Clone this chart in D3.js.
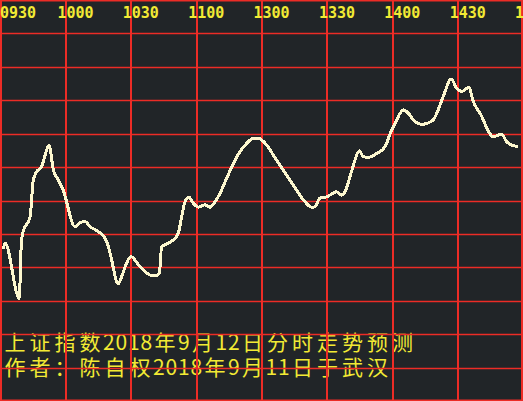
<!DOCTYPE html>
<html>
<head>
<meta charset="utf-8">
<script src="https://cdn.jsdelivr.net/npm/d3@7/dist/d3.min.js"></script>
<style>
  html, body { margin: 0; padding: 0; background: #212528; }
  svg { display: block; }
</style>
</head>
<body>
<div id="wrapper"></div>
<script>
// time labels along the top (minutes since 09:30, lunch break removed)
const tickMinutes = [0, 30, 60, 90, 120, 150, 180, 210, 240]
const tickLabels = ["0930", "1000", "1030", "1100", "1300", "1330", "1400", "1430", "1500"]

// intraday forecast curve (y in grid rows, 0 = bottom)
const minutes = [1.6, 2.3, 8.9, 9.5, 10.4, 13.8, 15.3, 16.8, 19.1, 20.7, 22.5, 24.5, 26.8, 29.0,
  34.4, 36.7, 39.0, 41.3, 45.9, 49.0, 50.5, 54.3, 55.8, 58.1, 60.1, 64.2, 68.8, 71.1, 73.1,
  74.2, 76.5, 79.5, 81.8, 83.4, 84.9, 86.7, 88.7, 91.0, 94.1, 96.4, 98.7, 101.0, 104.0, 107.1,
  110.1, 113.2, 116.2, 118.5, 122.4, 125.4, 130.0, 134.6, 139.2, 143.0, 144.5, 146.8, 149.9,
  154.5, 156.5, 158.3, 160.6, 162.9, 164.9, 166.7, 169.0, 172.9, 176.7, 179.4, 181.3, 185.1,
  187.4, 190.4, 193.5, 198.8, 200.4, 203.4, 207.0, 209.6, 211.9, 215.2, 217.2, 220.3, 226.4,
  230.2, 232.5, 234.8, 237.8]
const values = [4.55, 4.73, 3.07, 4.32, 5.03, 5.52, 6.61, 6.86, 7.01, 7.36, 7.66, 6.91, 6.61, 6.31,
  5.22, 5.33, 5.37, 5.22, 5.03, 4.77, 4.43, 3.50, 3.72, 4.13, 4.32, 4.02, 3.77, 3.74, 3.82,
  4.62, 4.70, 4.82, 5.02, 5.52, 5.96, 6.10, 5.92, 5.80, 5.87, 5.80, 5.96, 6.22, 6.66, 7.11,
  7.46, 7.71, 7.86, 7.86, 7.66, 7.36, 6.91, 6.46, 6.02, 5.80, 5.81, 6.07, 6.11,
  6.26, 6.16, 6.26, 6.71, 7.21, 7.49, 7.31, 7.29, 7.41, 7.61, 8.06, 8.31, 8.71,
  8.61, 8.36, 8.28, 8.41, 8.61, 9.11, 9.63, 9.36, 9.26, 9.39, 8.96, 8.61, 7.91,
  7.99, 7.76, 7.66, 7.61]

const titleLines = ["上证指数2018年9月12日分时走势预测", "作者：陈自权2018年9月11日于武汉"]

const width = 523
const height = 401

const xScale = d3.scaleLinear().domain([0, 240]).range([0, width])
const yScale = d3.scaleLinear().domain([0, 12]).range([height, 0])

const svg = d3.select("#wrapper").append("svg")
  .attr("width", width)
  .attr("height", height)

svg.append("rect")
  .attr("width", width)
  .attr("height", height)
  .attr("fill", "#212528")

// caption text (sits under the grid)
// CJK glyphs advance 25px, digits half that
titleLines.forEach((line, i) => {
  const t = svg.append("text")
    .attr("y", 350 + i * 25)
    .attr("fill", "#f2ea34")
    .style("font-family", "'Noto Sans CJK SC', sans-serif")
    .style("font-size", "21px")
  let cx = 3
  Array.from(line).forEach(ch => {
    const half = /[0-9]/.test(ch)
    t.append("tspan")
      .attr("x", half ? cx : cx + 1.5)
      .text(ch)
    cx += half ? 12.5 : 25
  })
})

// grid
const grid = svg.append("g")
  .attr("fill", "#ec2c26")

grid.selectAll(".hline").data(d3.range(0, 13))
  .enter().append("rect")
  .attr("class", "hline")
  .attr("x", 0)
  .attr("width", width)
  .attr("height", 1.5)
  .attr("y", d => Math.max(0, Math.min(height - 1.5, Math.round(yScale(d)) - 0.25)))

grid.selectAll(".vline").data(tickMinutes)
  .enter().append("rect")
  .attr("class", "vline")
  .attr("y", 0)
  .attr("height", height)
  .attr("width", 2)
  .attr("x", d => Math.min(width - 2, Math.floor(xScale(d))))

// time labels
svg.selectAll(".tick-label").data(tickMinutes)
  .enter().append("text")
  .attr("class", "tick-label")
  .attr("x", d => Math.max(0, xScale(d) - 8))
  .attr("y", 18)
  .attr("fill", "#f2ea34")
  .style("font-family", "'DejaVu Sans Mono', monospace")
  .style("font-weight", "bold")
  .style("font-size", "15px")
  .text((d, i) => tickLabels[i])

// forecast line
const lineGen = d3.line()
  .x((d, i) => xScale(minutes[i]))
  .y(d => yScale(d))
  .curve(d3.curveMonotoneX)

svg.append("path")
  .datum(values)
  .attr("d", lineGen)
  .attr("fill", "none")
  .attr("stroke", "#fdf8cf")
  .attr("stroke-width", 3)
  .attr("stroke-linejoin", "round")
  .attr("shape-rendering", "crispEdges")
</script>
</body>
</html>
